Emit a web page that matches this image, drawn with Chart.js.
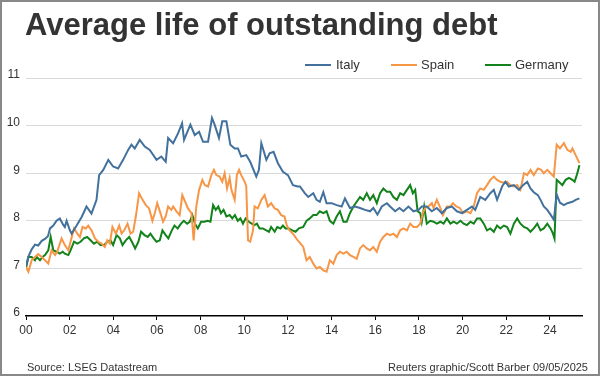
<!DOCTYPE html>
<html>
<head>
<meta charset="utf-8">
<script src="https://cdn.jsdelivr.net/npm/chart.js@4.4.1/dist/chart.umd.min.js"></script>
<style>
  body { margin: 0; background: #fff; font-family: "Liberation Sans", Arial, sans-serif; color: #333; }
  #wrap { position: relative; width: 600px; height: 376px; overflow: hidden; }
  #frame { position: absolute; left: 0; top: 0; width: 600px; height: 376px; box-sizing: border-box; border: 2px solid #888; pointer-events: none; }
  canvas { position: absolute; left: 0; top: 0; }
  #title { position: absolute; left: 25px; top: 9px; font-size: 31px; line-height: 31px; font-weight: bold; color: #333; white-space: nowrap; }
  .leg { position: absolute; top: 57px; font-size: 13px; line-height: 16px; color: #333; white-space: nowrap; }
  .sw { position: absolute; top: 64px; width: 26px; height: 0; border-top: 2.5px solid; }
  .foot { position: absolute; top: 360px; font-size: 11px; line-height: 14px; color: #333; white-space: nowrap; }
</style>
</head>
<body>
<div id="wrap">
  <canvas id="debtChart" width="600" height="376"></canvas>
  <div id="title">Average life of outstanding debt</div>
  <div class="sw" style="left:305px;border-color:#41719c"></div><div class="leg" style="left:336px">Italy</div>
  <div class="sw" style="left:391px;border-color:#f79646"></div><div class="leg" style="left:421px">Spain</div>
  <div class="sw" style="left:485px;border-color:#12821a"></div><div class="leg" style="left:515px">Germany</div>
  <div class="foot" style="left:27px">Source: LSEG Datastream</div>
  <div class="foot" style="right:12px">Reuters graphic/Scott Barber 09/05/2025</div>
  <div id="frame"></div>
</div>
<script>
// x values are years after 2000 (decimal)
const xTickValues = [0, 2, 4, 6, 8, 10, 12, 14, 16, 18, 20, 22, 24];
const yTickValues = [6, 7, 8, 9, 10, 11];

const italyDates = [0.00, 0.11, 0.26, 0.41, 0.56, 0.72, 0.87, 1.01, 1.10, 1.25, 1.40, 1.55, 1.70, 1.78, 1.86, 2.01, 2.09, 2.32, 2.55, 2.77,
    3.00, 3.23, 3.35, 3.54, 3.77, 3.99, 4.22, 4.45, 4.68, 4.83, 4.98, 5.21, 5.44, 5.67, 5.98, 6.20, 6.40, 6.51, 6.74, 6.97,
    7.15, 7.24, 7.53, 7.73, 7.93, 8.11, 8.34, 8.52, 8.64, 8.84, 8.99, 9.18, 9.36, 9.56, 9.71, 9.86, 10.09, 10.27, 10.55, 10.67,
    10.78, 11.01, 11.16, 11.34, 11.54, 11.77, 12.00, 12.23, 12.45, 12.55, 12.77, 12.93, 13.16, 13.31, 13.46, 13.62, 13.77, 14.00, 14.23, 14.46,
    14.61, 14.84, 15.07, 15.30, 15.53, 15.76, 15.91, 16.10, 16.30, 16.53, 16.68, 16.91, 17.11, 17.29, 17.52, 17.75, 17.98, 18.13, 18.36, 18.59,
    18.82, 19.05, 19.28, 19.51, 19.74, 19.97, 20.20, 20.43, 20.58, 20.81, 21.04, 21.27, 21.43, 21.58, 21.81, 21.96, 22.12, 22.35, 22.58, 22.77,
    22.96, 23.11, 23.26, 23.45, 23.57, 23.72, 23.88, 24.03, 24.18, 24.31, 24.46, 24.64, 24.80, 25.03, 25.18, 25.35];
const italyValues = [7.05, 7.25, 7.40, 7.50, 7.48, 7.58, 7.62, 7.68, 7.84, 7.90, 8.00, 8.05, 7.92, 7.87, 8.00, 7.80, 7.73, 7.90, 8.08, 8.30,
    8.15, 8.44, 8.96, 9.07, 9.28, 9.14, 9.10, 9.28, 9.49, 9.60, 9.52, 9.70, 9.56, 9.49, 9.28, 9.35, 9.24, 9.74, 9.63, 9.84,
    10.05, 9.70, 10.02, 9.80, 9.87, 9.66, 9.66, 10.16, 10.02, 9.74, 10.09, 10.09, 9.60, 9.52, 9.52, 9.35, 9.38, 9.24, 8.93, 9.07,
    9.63, 9.28, 9.42, 9.45, 9.21, 9.03, 8.96, 8.75, 8.72, 8.72, 8.58, 8.50, 8.58, 8.44, 8.40, 8.60, 8.37, 8.37, 8.33, 8.30,
    8.47, 8.27, 8.30, 8.27, 8.23, 8.20, 8.27, 8.13, 8.30, 8.37, 8.30, 8.20, 8.27, 8.20, 8.30, 8.20, 8.23, 8.30, 8.30, 8.20,
    8.27, 8.16, 8.27, 8.30, 8.20, 8.16, 8.23, 8.30, 8.23, 8.50, 8.44, 8.58, 8.65, 8.44, 8.72, 8.82, 8.72, 8.75, 8.65, 8.75,
    8.82, 8.68, 8.60, 8.54, 8.44, 8.30, 8.23, 8.13, 8.02, 8.55, 8.38, 8.33, 8.37, 8.40, 8.44, 8.47];

const spainDates = [0.00, 0.11, 0.26, 0.41, 0.56, 0.72, 0.87, 1.02, 1.17, 1.33, 1.43, 1.63, 1.78, 1.94, 2.04, 2.20, 2.35, 2.47, 2.59, 2.74,
    2.85, 3.00, 3.16, 3.31, 3.46, 3.61, 3.72, 3.84, 3.96, 4.12, 4.27, 4.38, 4.50, 4.65, 4.79, 4.91, 5.03, 5.18, 5.34, 5.49,
    5.64, 5.79, 5.90, 6.01, 6.16, 6.28, 6.40, 6.51, 6.66, 6.74, 6.89, 7.04, 7.16, 7.29, 7.42, 7.58, 7.68, 7.80, 7.93, 8.08,
    8.19, 8.34, 8.49, 8.61, 8.72, 8.87, 8.99, 9.10, 9.21, 9.33, 9.41, 9.56, 9.66, 9.76, 9.86, 10.02, 10.09, 10.17, 10.27, 10.40,
    10.47, 10.62, 10.78, 10.93, 11.08, 11.23, 11.39, 11.54, 11.69, 11.84, 11.95, 12.07, 12.23, 12.38, 12.50, 12.70, 12.85, 13.00, 13.16, 13.31,
    13.46, 13.62, 13.77, 13.92, 14.08, 14.23, 14.38, 14.54, 14.69, 14.84, 15.00, 15.15, 15.30, 15.45, 15.61, 15.76, 15.91, 16.07, 16.22, 16.37,
    16.53, 16.68, 16.83, 16.99, 17.14, 17.29, 17.45, 17.60, 17.75, 17.91, 18.06, 18.18, 18.29, 18.44, 18.59, 18.67, 18.82, 18.98, 19.10, 19.28,
    19.44, 19.56, 19.71, 19.87, 20.02, 20.17, 20.36, 20.51, 20.66, 20.81, 20.97, 21.12, 21.27, 21.43, 21.58, 21.73, 21.89, 22.04, 22.19, 22.35,
    22.50, 22.65, 22.81, 22.96, 23.11, 23.26, 23.45, 23.60, 23.72, 23.88, 24.03, 24.18, 24.31, 24.46, 24.64, 24.80, 24.95, 25.03, 25.18, 25.35];
const spainValues = [7.03, 6.93, 7.17, 7.24, 7.30, 7.24, 7.17, 7.10, 7.38, 7.28, 7.35, 7.63, 7.49, 7.38, 7.56, 7.84, 7.73, 7.66, 7.87, 7.84,
    7.90, 7.80, 7.63, 7.56, 7.52, 7.45, 7.59, 7.52, 7.87, 7.73, 7.90, 7.73, 7.80, 7.94, 7.73, 7.77, 8.09, 8.58, 8.44, 8.33,
    8.26, 8.00, 8.16, 8.37, 8.16, 7.98, 8.09, 8.30, 8.23, 8.30, 8.20, 8.12, 8.54, 8.40, 8.26, 8.16, 7.59, 8.30, 8.65, 8.86,
    8.75, 8.72, 8.96, 9.07, 8.96, 8.93, 8.82, 9.00, 8.68, 8.90, 8.65, 8.44, 8.96, 9.07, 8.96, 8.82, 8.72, 7.59, 7.56, 7.80,
    8.30, 8.26, 8.44, 8.54, 8.30, 8.37, 8.26, 8.23, 8.12, 8.09, 7.90, 7.80, 7.73, 7.63, 7.56, 7.45, 7.17, 7.24, 7.10, 7.00,
    7.03, 6.96, 6.93, 7.17, 7.10, 7.28, 7.35, 7.31, 7.35, 7.28, 7.24, 7.20, 7.42, 7.49, 7.42, 7.38, 7.45, 7.35, 7.56, 7.66,
    7.73, 7.70, 7.73, 7.66, 7.80, 7.84, 7.80, 7.94, 7.87, 7.87, 7.94, 8.16, 8.27, 8.30, 8.37, 8.27, 8.44, 8.27, 8.12, 8.30,
    8.30, 8.37, 8.30, 8.27, 8.16, 8.20, 8.16, 8.30, 8.58, 8.68, 8.65, 8.75, 8.86, 8.93, 8.86, 8.82, 8.80, 8.82, 8.75, 8.72,
    8.75, 8.65, 9.00, 8.96, 9.07, 8.96, 9.10, 9.07, 9.00, 9.07, 9.00, 8.93, 9.60, 9.52, 9.63, 9.49, 9.45, 9.52, 9.38, 9.21];

const germanyDates = [0.00, 0.11, 0.26, 0.41, 0.49, 0.64, 0.76, 0.87, 1.02, 1.13, 1.25, 1.40, 1.55, 1.68, 1.78, 1.94, 2.04, 2.20, 2.35, 2.50,
    2.65, 2.80, 2.96, 3.11, 3.26, 3.41, 3.57, 3.72, 3.87, 3.99, 4.15, 4.30, 4.42, 4.57, 4.73, 4.85, 5.00, 5.15, 5.27, 5.43,
    5.58, 5.70, 5.85, 5.98, 6.13, 6.25, 6.40, 6.52, 6.68, 6.80, 6.95, 7.10, 7.23, 7.38, 7.50, 7.62, 7.74, 7.87, 8.02, 8.17,
    8.32, 8.45, 8.57, 8.69, 8.81, 8.93, 9.05, 9.18, 9.33, 9.45, 9.57, 9.70, 9.82, 9.94, 10.06, 10.21, 10.34, 10.46, 10.58, 10.70,
    10.85, 11.01, 11.13, 11.23, 11.39, 11.51, 11.66, 11.77, 11.89, 12.04, 12.20, 12.35, 12.50, 12.70, 12.85, 13.00, 13.16, 13.31, 13.46, 13.62,
    13.77, 13.92, 14.08, 14.23, 14.38, 14.54, 14.69, 14.84, 15.00, 15.15, 15.30, 15.45, 15.61, 15.76, 15.91, 16.07, 16.22, 16.37, 16.53, 16.68,
    16.83, 16.99, 17.14, 17.29, 17.45, 17.60, 17.72, 17.83, 17.94, 18.06, 18.13, 18.24, 18.36, 18.52, 18.67, 18.82, 18.98, 19.13, 19.28, 19.44,
    19.59, 19.74, 19.90, 20.05, 20.20, 20.36, 20.51, 20.66, 20.81, 20.97, 21.12, 21.27, 21.43, 21.58, 21.73, 21.89, 22.04, 22.19, 22.35, 22.50,
    22.65, 22.81, 22.96, 23.11, 23.26, 23.42, 23.57, 23.72, 23.88, 24.03, 24.14, 24.21, 24.31, 24.41, 24.57, 24.72, 24.87, 25.03, 25.13, 25.23,
    25.30, 25.35];
const germanyValues = [7.00, 7.24, 7.24, 7.17, 7.24, 7.17, 7.24, 7.28, 7.38, 7.66, 7.38, 7.35, 7.31, 7.35, 7.31, 7.28, 7.38, 7.56, 7.52, 7.56,
    7.63, 7.66, 7.59, 7.52, 7.56, 7.49, 7.49, 7.56, 7.59, 7.49, 7.70, 7.63, 7.49, 7.59, 7.66, 7.56, 7.42, 7.56, 7.77, 7.70,
    7.66, 7.73, 7.63, 7.56, 7.59, 7.80, 7.70, 7.63, 7.80, 7.90, 7.84, 7.94, 8.00, 7.94, 7.98, 8.12, 7.94, 7.84, 7.98, 7.98,
    8.00, 7.98, 8.33, 8.23, 8.30, 8.16, 8.23, 8.09, 8.12, 8.05, 8.12, 8.00, 8.05, 7.94, 8.05, 7.98, 7.94, 7.91, 7.94, 7.84,
    7.84, 7.80, 7.77, 7.87, 7.77, 7.87, 7.84, 7.90, 7.84, 7.84, 7.80, 7.77, 7.84, 7.87, 8.00, 8.05, 8.12, 8.12, 8.20, 8.16,
    8.20, 8.00, 7.94, 8.09, 8.20, 7.98, 7.98, 8.16, 8.30, 8.40, 8.50, 8.44, 8.58, 8.44, 8.54, 8.37, 8.58, 8.68, 8.61, 8.61,
    8.50, 8.44, 8.58, 8.54, 8.65, 8.75, 8.58, 8.65, 8.20, 8.16, 7.98, 8.30, 7.94, 8.00, 7.98, 7.94, 7.98, 7.94, 8.05, 7.94,
    7.98, 7.94, 8.00, 7.94, 7.91, 7.98, 7.94, 8.05, 8.05, 7.94, 7.80, 7.84, 7.77, 7.90, 7.84, 7.90, 7.87, 7.73, 7.94, 8.05,
    7.94, 7.87, 7.84, 7.77, 7.84, 7.94, 7.80, 7.84, 7.94, 7.84, 7.73, 7.63, 8.86, 8.82, 8.75, 8.86, 8.90, 8.86, 8.82, 8.96,
    9.07, 9.17];

function toPoints(dates, values) {
    return dates.map((d, i) => ({ x: d, y: values[i] }));
}

const ctx = document.getElementById('debtChart').getContext('2d');

new Chart(ctx, {
    type: 'line',
    data: {
        datasets: [
            { label: 'Italy', data: toPoints(italyDates, italyValues), borderColor: '#41719c', borderWidth: 2 },
            { label: 'Spain', data: toPoints(spainDates, spainValues), borderColor: '#f79646', borderWidth: 2 },
            { label: 'Germany', data: toPoints(germanyDates, germanyValues), borderColor: '#12821a', borderWidth: 2 }
        ]
    },
    options: {
        responsive: false,
        animation: false,
        devicePixelRatio: 1,
        layout: { padding: { top: 78, left: 0, right: 18, bottom: 38 } },
        elements: { point: { radius: 0 }, line: { tension: 0 } },
        plugins: { legend: { display: false }, tooltip: { enabled: false } },
        scales: {
            x: {
                type: 'linear',
                min: 0,
                max: 25.47,
                afterBuildTicks: (scale) => { scale.ticks = xTickValues.map(v => ({ value: v })); },
                afterFit: (scale) => { scale.height = 22; },
                ticks: {
                    autoSkip: false,
                    maxRotation: 0,
                    padding: 3,
                    color: '#333',
                    font: { family: 'Liberation Sans, Arial', size: 12 },
                    callback: (v) => String(v).padStart(2, '0')
                },
                grid: { drawOnChartArea: false, drawTicks: true, tickLength: 4, color: '#000' },
                border: { display: true, color: '#000', width: 1.5 }
            },
            y: {
                min: 6,
                max: 11,
                afterBuildTicks: (scale) => { scale.ticks = yTickValues.map(v => ({ value: v })); },
                afterFit: (scale) => { scale.width = 26; },
                ticks: {
                    padding: 6,
                    labelOffset: -3,
                    color: '#333',
                    font: { family: 'Liberation Sans, Arial', size: 12 }
                },
                grid: {
                    drawTicks: false,
                    color: (c) => (c.tick && c.tick.value === 6) ? 'rgba(0,0,0,0)' : '#d9d9d9'
                },
                border: { display: false }
            }
        }
    }
});
</script>
</body>
</html>
